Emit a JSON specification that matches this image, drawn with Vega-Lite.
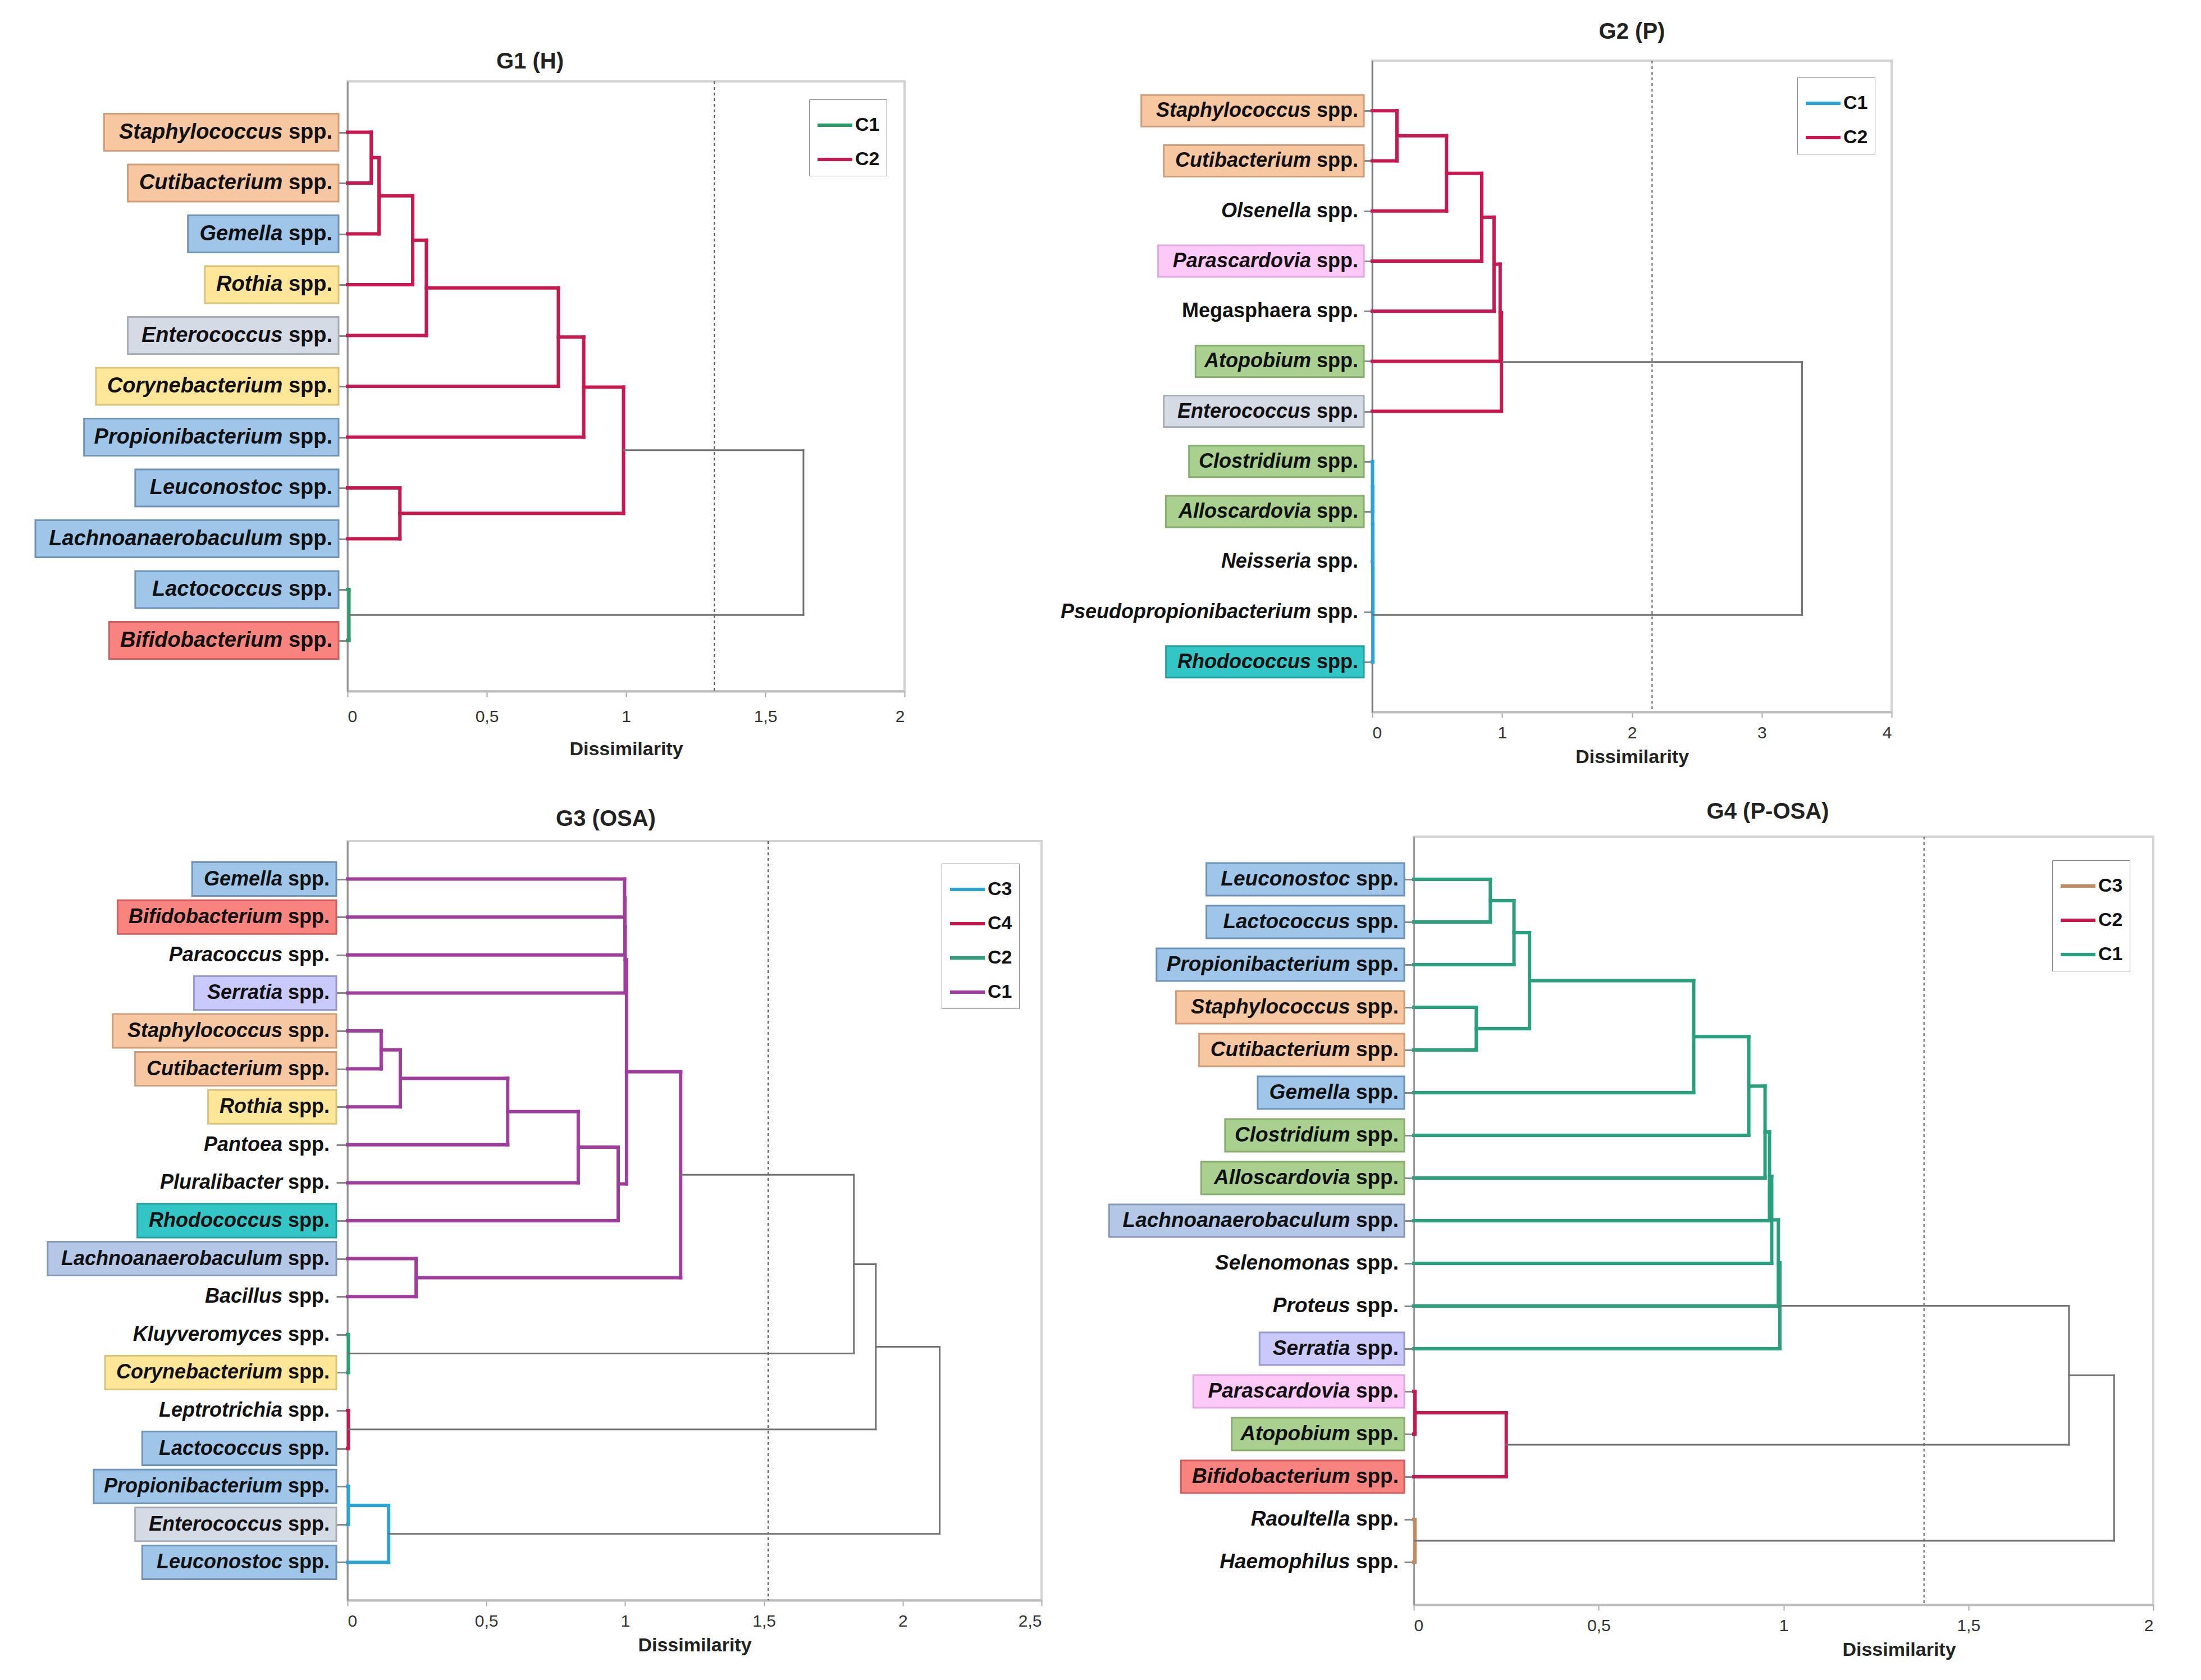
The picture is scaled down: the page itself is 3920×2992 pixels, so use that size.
{
  "$schema": "https://vega.github.io/schema/vega-lite/v6.json",
  "background": "white",
  "padding": {"left": 59, "top": 35, "right": 10, "bottom": 10},
  "config": {
    "font": "Liberation Sans",
    "view": {"stroke": "#d3d3d3", "strokeWidth": 4}
  },
  "spacing": 1382,
  "bounds": "flush",
  "resolve": {"scale": {"color": "independent"}, "legend": {"color": "independent"}},
  "datasets": {
    "g1l": [
      {"genus": "Staphylococcus", "pos": 1, "group": "A"},
      {"genus": "Cutibacterium", "pos": 2, "group": "A"},
      {"genus": "Gemella", "pos": 3, "group": "B"},
      {"genus": "Rothia", "pos": 4, "group": "C"},
      {"genus": "Enterococcus", "pos": 5, "group": "D"},
      {"genus": "Corynebacterium", "pos": 6, "group": "C"},
      {"genus": "Propionibacterium", "pos": 7, "group": "B"},
      {"genus": "Leuconostoc", "pos": 8, "group": "B"},
      {"genus": "Lachnoanaerobaculum", "pos": 9, "group": "B"},
      {"genus": "Lactococcus", "pos": 10, "group": "B"},
      {"genus": "Bifidobacterium", "pos": 11, "group": "E"}
    ],
    "g1n": [
      {"h": 0.085, "y1": 1, "y2": 2, "h1": 0, "h2": 0, "c": "C2"},
      {"h": 0.113, "y1": 1.5, "y2": 3, "h1": 0.085, "h2": 0, "c": "C2"},
      {"h": 0.234, "y1": 2.25, "y2": 4, "h1": 0.113, "h2": 0, "c": "C2"},
      {"h": 0.283, "y1": 3.125, "y2": 5, "h1": 0.234, "h2": 0, "c": "C2"},
      {"h": 0.757, "y1": 4.0625, "y2": 6, "h1": 0.283, "h2": 0, "c": "C2"},
      {"h": 0.848, "y1": 5.031, "y2": 7, "h1": 0.757, "h2": 0, "c": "C2"},
      {"h": 0.188, "y1": 8, "y2": 9, "h1": 0, "h2": 0, "c": "C2"},
      {"h": 0.991, "y1": 6.016, "y2": 8.5, "h1": 0.848, "h2": 0.188, "c": "C2"},
      {"h": 0.005, "y1": 10, "y2": 11, "h1": 0, "h2": 0, "c": "C1"},
      {"h": 1.637, "y1": 7.258, "y2": 10.5, "h1": 0.991, "h2": 0.005, "c": "none"}
    ],
    "g2l": [
      {"genus": "Staphylococcus", "pos": 1, "group": "A"},
      {"genus": "Cutibacterium", "pos": 2, "group": "A"},
      {"genus": "Olsenella", "pos": 3},
      {"genus": "Parascardovia", "pos": 4, "group": "F"},
      {"genus": "Megasphaera", "pos": 5},
      {"genus": "Atopobium", "pos": 6, "group": "G"},
      {"genus": "Enterococcus", "pos": 7, "group": "D"},
      {"genus": "Clostridium", "pos": 8, "group": "G"},
      {"genus": "Alloscardovia", "pos": 9, "group": "G"},
      {"genus": "Neisseria", "pos": 10},
      {"genus": "Pseudopropionibacterium", "pos": 11},
      {"genus": "Rhodococcus", "pos": 12, "group": "H"}
    ],
    "g2n": [
      {"h": 0.19, "y1": 1, "y2": 2, "h1": 0, "h2": 0, "c": "C2"},
      {"h": 0.572, "y1": 1.5, "y2": 3, "h1": 0.19, "h2": 0, "c": "C2"},
      {"h": 0.843, "y1": 2.25, "y2": 4, "h1": 0.572, "h2": 0, "c": "C2"},
      {"h": 0.938, "y1": 3.125, "y2": 5, "h1": 0.843, "h2": 0, "c": "C2"},
      {"h": 0.985, "y1": 4.0625, "y2": 6, "h1": 0.938, "h2": 0, "c": "C2"},
      {"h": 0.995, "y1": 5.031, "y2": 7, "h1": 0.985, "h2": 0, "c": "C2"},
      {"h": 0.002, "y1": 8, "y2": 9, "h1": 0, "h2": 0, "c": "C1"},
      {"h": 0.003, "y1": 8.5, "y2": 10, "h1": 0.002, "h2": 0, "c": "C1"},
      {"h": 0.004, "y1": 9.25, "y2": 11, "h1": 0.003, "h2": 0, "c": "C1"},
      {"h": 0.005, "y1": 10.125, "y2": 12, "h1": 0.004, "h2": 0, "c": "C1"},
      {"h": 3.31, "y1": 6.016, "y2": 11.063, "h1": 0.995, "h2": 0.005, "c": "none"}
    ],
    "g3l": [
      {"genus": "Gemella", "pos": 1, "group": "B"},
      {"genus": "Bifidobacterium", "pos": 2, "group": "E"},
      {"genus": "Paracoccus", "pos": 3},
      {"genus": "Serratia", "pos": 4, "group": "I"},
      {"genus": "Staphylococcus", "pos": 5, "group": "A"},
      {"genus": "Cutibacterium", "pos": 6, "group": "A"},
      {"genus": "Rothia", "pos": 7, "group": "C"},
      {"genus": "Pantoea", "pos": 8},
      {"genus": "Pluralibacter", "pos": 9},
      {"genus": "Rhodococcus", "pos": 10, "group": "H"},
      {"genus": "Lachnoanaerobaculum", "pos": 11, "group": "J"},
      {"genus": "Bacillus", "pos": 12},
      {"genus": "Kluyveromyces", "pos": 13},
      {"genus": "Corynebacterium", "pos": 14, "group": "C"},
      {"genus": "Leptrotrichia", "pos": 15},
      {"genus": "Lactococcus", "pos": 16, "group": "B"},
      {"genus": "Propionibacterium", "pos": 17, "group": "B"},
      {"genus": "Enterococcus", "pos": 18, "group": "D"},
      {"genus": "Leuconostoc", "pos": 19, "group": "B"}
    ],
    "g3n": [
      {"h": 0.121, "y1": 5, "y2": 6, "h1": 0, "h2": 0, "c": "C1"},
      {"h": 0.19, "y1": 5.5, "y2": 7, "h1": 0.121, "h2": 0, "c": "C1"},
      {"h": 0.577, "y1": 6.25, "y2": 8, "h1": 0.19, "h2": 0, "c": "C1"},
      {"h": 0.831, "y1": 7.125, "y2": 9, "h1": 0.577, "h2": 0, "c": "C1"},
      {"h": 0.975, "y1": 8.0625, "y2": 10, "h1": 0.831, "h2": 0, "c": "C1"},
      {"h": 0.998, "y1": 1, "y2": 2, "h1": 0, "h2": 0, "c": "C1"},
      {"h": 0.999, "y1": 1.5, "y2": 3, "h1": 0.998, "h2": 0, "c": "C1"},
      {"h": 1.0, "y1": 2.25, "y2": 4, "h1": 0.999, "h2": 0, "c": "C1"},
      {"h": 1.005, "y1": 3.125, "y2": 9.031, "h1": 1.0, "h2": 0.975, "c": "C1"},
      {"h": 0.247, "y1": 11, "y2": 12, "h1": 0, "h2": 0, "c": "C1"},
      {"h": 1.2, "y1": 6.078, "y2": 11.5, "h1": 1.005, "h2": 0.247, "c": "C1"},
      {"h": 0.003, "y1": 13, "y2": 14, "h1": 0, "h2": 0, "c": "C2"},
      {"h": 1.824, "y1": 8.789, "y2": 13.5, "h1": 1.2, "h2": 0.003, "c": "none"},
      {"h": 0.003, "y1": 15, "y2": 16, "h1": 0, "h2": 0, "c": "C4"},
      {"h": 1.903, "y1": 11.145, "y2": 15.5, "h1": 1.824, "h2": 0.003, "c": "none"},
      {"h": 0.003, "y1": 17, "y2": 18, "h1": 0, "h2": 0, "c": "C3"},
      {"h": 0.148, "y1": 17.5, "y2": 19, "h1": 0.003, "h2": 0, "c": "C3"},
      {"h": 2.133, "y1": 13.322, "y2": 18.25, "h1": 1.903, "h2": 0.148, "c": "none"}
    ],
    "g4l": [
      {"genus": "Leuconostoc", "pos": 1, "group": "B"},
      {"genus": "Lactococcus", "pos": 2, "group": "B"},
      {"genus": "Propionibacterium", "pos": 3, "group": "B"},
      {"genus": "Staphylococcus", "pos": 4, "group": "A"},
      {"genus": "Cutibacterium", "pos": 5, "group": "A"},
      {"genus": "Gemella", "pos": 6, "group": "B"},
      {"genus": "Clostridium", "pos": 7, "group": "G"},
      {"genus": "Alloscardovia", "pos": 8, "group": "G"},
      {"genus": "Lachnoanaerobaculum", "pos": 9, "group": "J"},
      {"genus": "Selenomonas", "pos": 10},
      {"genus": "Proteus", "pos": 11},
      {"genus": "Serratia", "pos": 12, "group": "I"},
      {"genus": "Parascardovia", "pos": 13, "group": "F"},
      {"genus": "Atopobium", "pos": 14, "group": "G"},
      {"genus": "Bifidobacterium", "pos": 15, "group": "E"},
      {"genus": "Raoultella", "pos": 16},
      {"genus": "Haemophilus", "pos": 17}
    ],
    "g4n": [
      {"h": 0.207, "y1": 1, "y2": 2, "h1": 0, "h2": 0, "c": "C1"},
      {"h": 0.271, "y1": 1.5, "y2": 3, "h1": 0.207, "h2": 0, "c": "C1"},
      {"h": 0.169, "y1": 4, "y2": 5, "h1": 0, "h2": 0, "c": "C1"},
      {"h": 0.313, "y1": 2.25, "y2": 4.5, "h1": 0.271, "h2": 0.169, "c": "C1"},
      {"h": 0.757, "y1": 3.375, "y2": 6, "h1": 0.313, "h2": 0, "c": "C1"},
      {"h": 0.906, "y1": 4.6875, "y2": 7, "h1": 0.757, "h2": 0, "c": "C1"},
      {"h": 0.95, "y1": 5.844, "y2": 8, "h1": 0.906, "h2": 0, "c": "C1"},
      {"h": 0.962, "y1": 6.922, "y2": 9, "h1": 0.95, "h2": 0, "c": "C1"},
      {"h": 0.968, "y1": 7.961, "y2": 10, "h1": 0.962, "h2": 0, "c": "C1"},
      {"h": 0.986, "y1": 8.98, "y2": 11, "h1": 0.968, "h2": 0, "c": "C1"},
      {"h": 0.99, "y1": 9.99, "y2": 12, "h1": 0.986, "h2": 0, "c": "C1"},
      {"h": 0.003, "y1": 13, "y2": 14, "h1": 0, "h2": 0, "c": "C2"},
      {"h": 0.25, "y1": 13.5, "y2": 15, "h1": 0.003, "h2": 0, "c": "C2"},
      {"h": 1.772, "y1": 10.995, "y2": 14.25, "h1": 0.99, "h2": 0.25, "c": "none"},
      {"h": 0.003, "y1": 16, "y2": 17, "h1": 0, "h2": 0, "c": "C3"},
      {"h": 1.894, "y1": 12.623, "y2": 16.5, "h1": 1.772, "h2": 0.003, "c": "none"}
    ]
  },
  "vconcat": [
    {
      "hconcat": [
        {
          "width": 992, "height": 1086,
          "title": {"text": "G1 (H)", "frame": "group", "anchor": "middle", "dx": -171, "offset": 14, "fontSize": 40, "fontWeight": "bold", "color": "#222"},
          "layer": [
            {
              "data": {"name": "g1l"},
              "transform": [
                {"filter": "isValid(datum.group)"},
                {"calculate": "0.59*length(datum.genus) - 0.31*length(replace(datum.genus, regexp('[^ijl]', 'g'), '')) - 0.24*length(replace(datum.genus, regexp('[^tfr]', 'g'), '')) + 0.27*length(replace(datum.genus, regexp('[^mw]', 'g'), '')) + 0.13*length(replace(datum.genus, regexp('[^A-Z]', 'g'), ''))", "as": "em"},
                {"calculate": "-(27 + 20 + 38*(2.334 + datum.em))/496", "as": "bx"}
              ],
              "mark": {"type": "rect", "x2Offset": -16, "yOffset": -33, "y2Offset": 33, "strokeWidth": 3},
              "encoding": {
                "x": {"field": "bx", "type": "quantitative", "scale": {"domain": [0, 2], "nice": false, "zero": false},
                  "axis": {"values": [0, 0.5, 1, 1.5, 2], "labelExpr": "replace(format(datum.value, '~g'), '.', ',')", "title": "Dissimilarity", "grid": false, "domainColor": "#bdbdbd", "domainWidth": 4, "tickColor": "#aaaaaa", "tickWidth": 2, "tickSize": 10, "labelFontSize": 30, "labelColor": "#333333", "labelPadding": 20, "titleFontSize": 34, "titleFontWeight": "bold", "titleColor": "#222222", "titlePadding": 26}},
                "x2": {"datum": 0},
                "y": {"field": "pos", "type": "quantitative", "scale": {"domain": [0, 12], "reverse": true, "nice": false, "zero": false},
                  "axis": {"values": [1, 2, 3, 4, 5, 6, 7, 8, 9, 10, 11], "labels": false, "title": null, "grid": false, "domainColor": "#777777", "domainWidth": 2, "tickColor": "#888888", "tickWidth": 3, "tickSize": 17}},
                "y2": {"field": "pos"},
                "fill": {"field": "group", "type": "nominal", "legend": null, "scale": {"domain": ["A", "B", "C", "D", "E", "F", "G", "H", "I", "J"], "range": ["#f7c7a2", "#9fc5e8", "#ffe699", "#d5dbe4", "#f8837f", "#fdc9f7", "#a9d08e", "#33c6c6", "#c9c9fb", "#b4c7e7"]}},
                "stroke": {"field": "group", "type": "nominal", "legend": null, "scale": {"domain": ["A", "B", "C", "D", "E", "F", "G", "H", "I", "J"], "range": ["#d19c78", "#6e92b8", "#d9c27a", "#a8aeb8", "#d06060", "#e3a6e0", "#87ad6f", "#25a0a0", "#9a9ad0", "#8898b8"]}}
              }
            },
            {
              "data": {"name": "g1l"},
              "mark": {"type": "text", "text": "spp.", "align": "right", "baseline": "middle", "dx": -27, "fontSize": 38, "fontWeight": "bold", "color": "#111111"},
              "encoding": {"x": {"datum": 0}, "y": {"field": "pos", "type": "quantitative"}}
            },
            {
              "data": {"name": "g1l"},
              "mark": {"type": "text", "align": "right", "baseline": "middle", "dx": -115.7, "fontSize": 38, "fontWeight": "bold", "fontStyle": "italic", "color": "#111111"},
              "encoding": {"x": {"datum": 0}, "y": {"field": "pos", "type": "quantitative"}, "text": {"field": "genus"}}
            },
            {
              "data": {"values": [{}]},
              "mark": {"type": "rule", "color": "#555555", "strokeDash": [5, 5], "strokeWidth": 2},
              "encoding": {"x": {"datum": 1.317}}
            },
            {
              "data": {"name": "g1n"},
              "mark": {"type": "rule", "strokeCap": "square"},
              "encoding": {
                "x": {"field": "h", "type": "quantitative"},
                "y": {"field": "y1", "type": "quantitative"},
                "y2": {"field": "y2"},
                "color": {"condition": {"test": "datum.c === 'none'", "value": "#707070"}, "field": "c", "type": "nominal", "scale": {"domain": ["C1", "C2"], "range": ["#2e9a6a", "#c8184f"]},
                  "legend": {"orient": "top-right", "offset": 32, "title": null, "strokeColor": "#888888", "fillColor": "white", "padding": 12, "symbolType": "stroke", "symbolSize": 3844, "symbolStrokeWidth": 6, "labelFontSize": 34, "labelFontWeight": "bold", "labelColor": "#111111", "labelOffset": 2, "rowPadding": 10}},
                "strokeWidth": {"condition": {"test": "datum.c === 'none'", "value": 3}, "value": 6}
              }
            },
            {
              "data": {"name": "g1n"},
              "mark": {"type": "rule", "strokeCap": "square"},
              "encoding": {
                "x": {"field": "h1", "type": "quantitative"},
                "x2": {"field": "h"},
                "y": {"field": "y1", "type": "quantitative"},
                "color": {"condition": {"test": "datum.c === 'none'", "value": "#707070"}, "field": "c", "type": "nominal", "scale": {"domain": ["C1", "C2"], "range": ["#2e9a6a", "#c8184f"]}},
                "strokeWidth": {"condition": {"test": "datum.c === 'none'", "value": 3}, "value": 6}
              }
            },
            {
              "data": {"name": "g1n"},
              "mark": {"type": "rule", "strokeCap": "square"},
              "encoding": {
                "x": {"field": "h2", "type": "quantitative"},
                "x2": {"field": "h"},
                "y": {"field": "y2", "type": "quantitative"},
                "color": {"condition": {"test": "datum.c === 'none'", "value": "#707070"}, "field": "c", "type": "nominal", "scale": {"domain": ["C1", "C2"], "range": ["#2e9a6a", "#c8184f"]}},
                "strokeWidth": {"condition": {"test": "datum.c === 'none'", "value": 3}, "value": 6}
              }
            }
          ]
        },
        {
          "width": 925, "height": 1160,
          "title": {"text": "G2 (P)", "frame": "group", "anchor": "middle", "dx": 0, "offset": 30, "fontSize": 40, "fontWeight": "bold", "color": "#222"},
          "layer": [
            {
              "data": {"name": "g2l"},
              "transform": [
                {"filter": "isValid(datum.group)"},
                {"calculate": "0.59*length(datum.genus) - 0.31*length(replace(datum.genus, regexp('[^ijl]', 'g'), '')) - 0.24*length(replace(datum.genus, regexp('[^tfr]', 'g'), '')) + 0.27*length(replace(datum.genus, regexp('[^mw]', 'g'), '')) + 0.13*length(replace(datum.genus, regexp('[^A-Z]', 'g'), ''))", "as": "em"},
                {"calculate": "-(25 + 20 + 36*(2.334 + datum.em))/231.25", "as": "bx"}
              ],
              "mark": {"type": "rect", "x2Offset": -15, "yOffset": -28, "y2Offset": 28, "strokeWidth": 3},
              "encoding": {
                "x": {"field": "bx", "type": "quantitative", "scale": {"domain": [0, 4], "nice": false, "zero": false},
                  "axis": {"values": [0, 1, 2, 3, 4], "labelExpr": "replace(format(datum.value, '~g'), '.', ',')", "title": "Dissimilarity", "grid": false, "domainColor": "#bdbdbd", "domainWidth": 4, "tickColor": "#aaaaaa", "tickWidth": 2, "tickSize": 10, "labelFontSize": 30, "labelColor": "#333333", "labelPadding": 12, "titleFontSize": 34, "titleFontWeight": "bold", "titleColor": "#222222", "titlePadding": 11}},
                "x2": {"datum": 0},
                "y": {"field": "pos", "type": "quantitative", "scale": {"domain": [0, 13], "reverse": true, "nice": false, "zero": false},
                  "axis": {"values": [1, 2, 3, 4, 5, 6, 7, 8, 9, 11, 12], "labels": false, "title": null, "grid": false, "domainColor": "#777777", "domainWidth": 2, "tickColor": "#888888", "tickWidth": 3, "tickSize": 15}},
                "y2": {"field": "pos"},
                "fill": {"field": "group", "type": "nominal", "legend": null, "scale": {"domain": ["A", "B", "C", "D", "E", "F", "G", "H", "I", "J"], "range": ["#f7c7a2", "#9fc5e8", "#ffe699", "#d5dbe4", "#f8837f", "#fdc9f7", "#a9d08e", "#33c6c6", "#c9c9fb", "#b4c7e7"]}},
                "stroke": {"field": "group", "type": "nominal", "legend": null, "scale": {"domain": ["A", "B", "C", "D", "E", "F", "G", "H", "I", "J"], "range": ["#d19c78", "#6e92b8", "#d9c27a", "#a8aeb8", "#d06060", "#e3a6e0", "#87ad6f", "#25a0a0", "#9a9ad0", "#8898b8"]}}
              }
            },
            {
              "data": {"name": "g2l"},
              "mark": {"type": "text", "text": "spp.", "align": "right", "baseline": "middle", "dx": -25, "fontSize": 36, "fontWeight": "bold", "color": "#111111"},
              "encoding": {"x": {"datum": 0}, "y": {"field": "pos", "type": "quantitative"}}
            },
            {
              "data": {"name": "g2l"},
              "transform": [{"filter": "datum.genus !== 'Megasphaera'"}],
              "mark": {"type": "text", "align": "right", "baseline": "middle", "dx": -109, "fontSize": 36, "fontWeight": "bold", "fontStyle": "italic", "color": "#111111"},
              "encoding": {"x": {"datum": 0}, "y": {"field": "pos", "type": "quantitative"}, "text": {"field": "genus"}}
            },
            {
              "data": {"name": "g2l"},
              "transform": [{"filter": "datum.genus === 'Megasphaera'"}],
              "mark": {"type": "text", "align": "right", "baseline": "middle", "dx": -109, "fontSize": 36, "fontWeight": "bold", "fontStyle": "normal", "color": "#111111"},
              "encoding": {"x": {"datum": 0}, "y": {"field": "pos", "type": "quantitative"}, "text": {"field": "genus"}}
            },
            {
              "data": {"values": [{}]},
              "mark": {"type": "rule", "color": "#555555", "strokeDash": [5, 5], "strokeWidth": 2},
              "encoding": {"x": {"datum": 2.155}}
            },
            {
              "data": {"name": "g2n"},
              "mark": {"type": "rule", "strokeCap": "square"},
              "encoding": {
                "x": {"field": "h", "type": "quantitative"},
                "y": {"field": "y1", "type": "quantitative"},
                "y2": {"field": "y2"},
                "color": {"condition": {"test": "datum.c === 'none'", "value": "#707070"}, "field": "c", "type": "nominal", "scale": {"domain": ["C1", "C2"], "range": ["#2ba3d8", "#c8184f"]},
                  "legend": {"orient": "top-right", "offset": 30, "title": null, "strokeColor": "#888888", "fillColor": "white", "padding": 12, "symbolType": "stroke", "symbolSize": 3844, "symbolStrokeWidth": 6, "labelFontSize": 34, "labelFontWeight": "bold", "labelColor": "#111111", "labelOffset": 2, "rowPadding": 10}},
                "strokeWidth": {"condition": {"test": "datum.c === 'none'", "value": 3}, "value": 6}
              }
            },
            {
              "data": {"name": "g2n"},
              "mark": {"type": "rule", "strokeCap": "square"},
              "encoding": {
                "x": {"field": "h1", "type": "quantitative"},
                "x2": {"field": "h"},
                "y": {"field": "y1", "type": "quantitative"},
                "color": {"condition": {"test": "datum.c === 'none'", "value": "#707070"}, "field": "c", "type": "nominal", "scale": {"domain": ["C1", "C2"], "range": ["#2ba3d8", "#c8184f"]}},
                "strokeWidth": {"condition": {"test": "datum.c === 'none'", "value": 3}, "value": 6}
              }
            },
            {
              "data": {"name": "g2n"},
              "mark": {"type": "rule", "strokeCap": "square"},
              "encoding": {
                "x": {"field": "h2", "type": "quantitative"},
                "x2": {"field": "h"},
                "y": {"field": "y2", "type": "quantitative"},
                "color": {"condition": {"test": "datum.c === 'none'", "value": "#707070"}, "field": "c", "type": "nominal", "scale": {"domain": ["C1", "C2"], "range": ["#2ba3d8", "#c8184f"]}},
                "strokeWidth": {"condition": {"test": "datum.c === 'none'", "value": 3}, "value": 6}
              }
            }
          ]
        }
      ],
      "spacing": 833,
      "bounds": "flush",
      "center": true,
      "resolve": {"scale": {"color": "independent"}, "legend": {"color": "independent"}}
    },
    {
      "hconcat": [
        {
          "width": 1236, "height": 1352,
          "title": {"text": "G3 (OSA)", "frame": "group", "anchor": "middle", "dx": -158, "offset": 18, "fontSize": 40, "fontWeight": "bold", "color": "#222"},
          "layer": [
            {
              "data": {"name": "g3l"},
              "transform": [
                {"filter": "isValid(datum.group)"},
                {"calculate": "0.59*length(datum.genus) - 0.31*length(replace(datum.genus, regexp('[^ijl]', 'g'), '')) - 0.24*length(replace(datum.genus, regexp('[^tfr]', 'g'), '')) + 0.27*length(replace(datum.genus, regexp('[^mw]', 'g'), '')) + 0.13*length(replace(datum.genus, regexp('[^A-Z]', 'g'), ''))", "as": "em"},
                {"calculate": "-(32 + 20 + 36*(2.334 + datum.em))/494.4", "as": "bx"}
              ],
              "mark": {"type": "rect", "x2Offset": -20, "yOffset": -30, "y2Offset": 30, "strokeWidth": 3},
              "encoding": {
                "x": {"field": "bx", "type": "quantitative", "scale": {"domain": [0, 2.5], "nice": false, "zero": false},
                  "axis": {"values": [0, 0.5, 1, 1.5, 2, 2.5], "labelExpr": "replace(format(datum.value, '~g'), '.', ',')", "title": "Dissimilarity", "grid": false, "domainColor": "#bdbdbd", "domainWidth": 4, "tickColor": "#aaaaaa", "tickWidth": 2, "tickSize": 10, "labelFontSize": 30, "labelColor": "#333333", "labelPadding": 12, "titleFontSize": 34, "titleFontWeight": "bold", "titleColor": "#222222", "titlePadding": 11}},
                "x2": {"datum": 0},
                "y": {"field": "pos", "type": "quantitative", "scale": {"domain": [0, 20], "reverse": true, "nice": false, "zero": false},
                  "axis": {"values": [1, 2, 3, 4, 5, 6, 7, 8, 9, 10, 11, 12, 13, 14, 15, 16, 17, 18, 19], "labels": false, "title": null, "grid": false, "domainColor": "#777777", "domainWidth": 2, "tickColor": "#888888", "tickWidth": 3, "tickSize": 20}},
                "y2": {"field": "pos"},
                "fill": {"field": "group", "type": "nominal", "legend": null, "scale": {"domain": ["A", "B", "C", "D", "E", "F", "G", "H", "I", "J"], "range": ["#f7c7a2", "#9fc5e8", "#ffe699", "#d5dbe4", "#f8837f", "#fdc9f7", "#a9d08e", "#33c6c6", "#c9c9fb", "#b4c7e7"]}},
                "stroke": {"field": "group", "type": "nominal", "legend": null, "scale": {"domain": ["A", "B", "C", "D", "E", "F", "G", "H", "I", "J"], "range": ["#d19c78", "#6e92b8", "#d9c27a", "#a8aeb8", "#d06060", "#e3a6e0", "#87ad6f", "#25a0a0", "#9a9ad0", "#8898b8"]}}
              }
            },
            {
              "data": {"name": "g3l"},
              "mark": {"type": "text", "text": "spp.", "align": "right", "baseline": "middle", "dx": -32, "fontSize": 36, "fontWeight": "bold", "color": "#111111"},
              "encoding": {"x": {"datum": 0}, "y": {"field": "pos", "type": "quantitative"}}
            },
            {
              "data": {"name": "g3l"},
              "mark": {"type": "text", "align": "right", "baseline": "middle", "dx": -116, "fontSize": 36, "fontWeight": "bold", "fontStyle": "italic", "color": "#111111"},
              "encoding": {"x": {"datum": 0}, "y": {"field": "pos", "type": "quantitative"}, "text": {"field": "genus"}}
            },
            {
              "data": {"values": [{}]},
              "mark": {"type": "rule", "color": "#555555", "strokeDash": [5, 5], "strokeWidth": 2},
              "encoding": {"x": {"datum": 1.515}}
            },
            {
              "data": {"name": "g3n"},
              "mark": {"type": "rule", "strokeCap": "square"},
              "encoding": {
                "x": {"field": "h", "type": "quantitative"},
                "y": {"field": "y1", "type": "quantitative"},
                "y2": {"field": "y2"},
                "color": {"condition": {"test": "datum.c === 'none'", "value": "#707070"}, "field": "c", "type": "nominal", "scale": {"domain": ["C3", "C4", "C2", "C1"], "range": ["#2ba3d3", "#c8184f", "#2aa077", "#a03c9e"]},
                  "legend": {"orient": "top-right", "offset": 40, "title": null, "strokeColor": "#888888", "fillColor": "white", "padding": 12, "symbolType": "stroke", "symbolSize": 3844, "symbolStrokeWidth": 6, "labelFontSize": 34, "labelFontWeight": "bold", "labelColor": "#111111", "labelOffset": 2, "rowPadding": 10}},
                "strokeWidth": {"condition": {"test": "datum.c === 'none'", "value": 3}, "value": 6}
              }
            },
            {
              "data": {"name": "g3n"},
              "mark": {"type": "rule", "strokeCap": "square"},
              "encoding": {
                "x": {"field": "h1", "type": "quantitative"},
                "x2": {"field": "h"},
                "y": {"field": "y1", "type": "quantitative"},
                "color": {"condition": {"test": "datum.c === 'none'", "value": "#707070"}, "field": "c", "type": "nominal", "scale": {"domain": ["C3", "C4", "C2", "C1"], "range": ["#2ba3d3", "#c8184f", "#2aa077", "#a03c9e"]}},
                "strokeWidth": {"condition": {"test": "datum.c === 'none'", "value": 3}, "value": 6}
              }
            },
            {
              "data": {"name": "g3n"},
              "mark": {"type": "rule", "strokeCap": "square"},
              "encoding": {
                "x": {"field": "h2", "type": "quantitative"},
                "x2": {"field": "h"},
                "y": {"field": "y2", "type": "quantitative"},
                "color": {"condition": {"test": "datum.c === 'none'", "value": "#707070"}, "field": "c", "type": "nominal", "scale": {"domain": ["C3", "C4", "C2", "C1"], "range": ["#2ba3d3", "#c8184f", "#2aa077", "#a03c9e"]}},
                "strokeWidth": {"condition": {"test": "datum.c === 'none'", "value": 3}, "value": 6}
              }
            }
          ]
        },
        {
          "width": 1317, "height": 1368,
          "title": {"text": "G4 (P-OSA)", "frame": "group", "anchor": "middle", "dx": -28, "offset": 23, "fontSize": 40, "fontWeight": "bold", "color": "#222"},
          "layer": [
            {
              "data": {"name": "g4l"},
              "transform": [
                {"filter": "isValid(datum.group)"},
                {"calculate": "0.59*length(datum.genus) - 0.31*length(replace(datum.genus, regexp('[^ijl]', 'g'), '')) - 0.24*length(replace(datum.genus, regexp('[^tfr]', 'g'), '')) + 0.27*length(replace(datum.genus, regexp('[^mw]', 'g'), '')) + 0.13*length(replace(datum.genus, regexp('[^A-Z]', 'g'), ''))", "as": "em"},
                {"calculate": "-(27 + 20 + 37*(2.334 + datum.em))/658.5", "as": "bx"}
              ],
              "mark": {"type": "rect", "x2Offset": -17, "yOffset": -29, "y2Offset": 29, "strokeWidth": 3},
              "encoding": {
                "x": {"field": "bx", "type": "quantitative", "scale": {"domain": [0, 2], "nice": false, "zero": false},
                  "axis": {"values": [0, 0.5, 1, 1.5, 2], "labelExpr": "replace(format(datum.value, '~g'), '.', ',')", "title": "Dissimilarity", "titleX": 864, "grid": false, "domainColor": "#bdbdbd", "domainWidth": 4, "tickColor": "#aaaaaa", "tickWidth": 2, "tickSize": 10, "labelFontSize": 30, "labelColor": "#333333", "labelPadding": 12, "titleFontSize": 34, "titleFontWeight": "bold", "titleColor": "#222222", "titlePadding": 11}},
                "x2": {"datum": 0},
                "y": {"field": "pos", "type": "quantitative", "scale": {"domain": [0, 18], "reverse": true, "nice": false, "zero": false},
                  "axis": {"values": [1, 2, 3, 4, 5, 6, 7, 8, 9, 10, 11, 12, 13, 14, 15, 16, 17], "labels": false, "title": null, "grid": false, "domainColor": "#777777", "domainWidth": 2, "tickColor": "#888888", "tickWidth": 3, "tickSize": 17}},
                "y2": {"field": "pos"},
                "fill": {"field": "group", "type": "nominal", "legend": null, "scale": {"domain": ["A", "B", "C", "D", "E", "F", "G", "H", "I", "J"], "range": ["#f7c7a2", "#9fc5e8", "#ffe699", "#d5dbe4", "#f8837f", "#fdc9f7", "#a9d08e", "#33c6c6", "#c9c9fb", "#b4c7e7"]}},
                "stroke": {"field": "group", "type": "nominal", "legend": null, "scale": {"domain": ["A", "B", "C", "D", "E", "F", "G", "H", "I", "J"], "range": ["#d19c78", "#6e92b8", "#d9c27a", "#a8aeb8", "#d06060", "#e3a6e0", "#87ad6f", "#25a0a0", "#9a9ad0", "#8898b8"]}}
              }
            },
            {
              "data": {"name": "g4l"},
              "mark": {"type": "text", "text": "spp.", "align": "right", "baseline": "middle", "dx": -27, "fontSize": 37, "fontWeight": "bold", "color": "#111111"},
              "encoding": {"x": {"datum": 0}, "y": {"field": "pos", "type": "quantitative"}}
            },
            {
              "data": {"name": "g4l"},
              "mark": {"type": "text", "align": "right", "baseline": "middle", "dx": -113.4, "fontSize": 37, "fontWeight": "bold", "fontStyle": "italic", "color": "#111111"},
              "encoding": {"x": {"datum": 0}, "y": {"field": "pos", "type": "quantitative"}, "text": {"field": "genus"}}
            },
            {
              "data": {"values": [{}]},
              "mark": {"type": "rule", "color": "#555555", "strokeDash": [5, 5], "strokeWidth": 2},
              "encoding": {"x": {"datum": 1.38}}
            },
            {
              "data": {"name": "g4n"},
              "mark": {"type": "rule", "strokeCap": "square"},
              "encoding": {
                "x": {"field": "h", "type": "quantitative"},
                "y": {"field": "y1", "type": "quantitative"},
                "y2": {"field": "y2"},
                "color": {"condition": {"test": "datum.c === 'none'", "value": "#707070"}, "field": "c", "type": "nominal", "scale": {"domain": ["C3", "C2", "C1"], "range": ["#c28a5e", "#c8184f", "#27a07d"]},
                  "legend": {"orient": "top-right", "offset": 42, "title": null, "strokeColor": "#888888", "fillColor": "white", "padding": 12, "symbolType": "stroke", "symbolSize": 3844, "symbolStrokeWidth": 6, "labelFontSize": 34, "labelFontWeight": "bold", "labelColor": "#111111", "labelOffset": 2, "rowPadding": 10}},
                "strokeWidth": {"condition": {"test": "datum.c === 'none'", "value": 3}, "value": 6}
              }
            },
            {
              "data": {"name": "g4n"},
              "mark": {"type": "rule", "strokeCap": "square"},
              "encoding": {
                "x": {"field": "h1", "type": "quantitative"},
                "x2": {"field": "h"},
                "y": {"field": "y1", "type": "quantitative"},
                "color": {"condition": {"test": "datum.c === 'none'", "value": "#707070"}, "field": "c", "type": "nominal", "scale": {"domain": ["C3", "C2", "C1"], "range": ["#c28a5e", "#c8184f", "#27a07d"]}},
                "strokeWidth": {"condition": {"test": "datum.c === 'none'", "value": 3}, "value": 6}
              }
            },
            {
              "data": {"name": "g4n"},
              "mark": {"type": "rule", "strokeCap": "square"},
              "encoding": {
                "x": {"field": "h2", "type": "quantitative"},
                "x2": {"field": "h"},
                "y": {"field": "y2", "type": "quantitative"},
                "color": {"condition": {"test": "datum.c === 'none'", "value": "#707070"}, "field": "c", "type": "nominal", "scale": {"domain": ["C3", "C2", "C1"], "range": ["#c28a5e", "#c8184f", "#27a07d"]}},
                "strokeWidth": {"condition": {"test": "datum.c === 'none'", "value": 3}, "value": 6}
              }
            }
          ]
        }
      ],
      "spacing": 663,
      "bounds": "flush",
      "center": true,
      "resolve": {"scale": {"color": "independent"}, "legend": {"color": "independent"}}
    }
  ]
}
